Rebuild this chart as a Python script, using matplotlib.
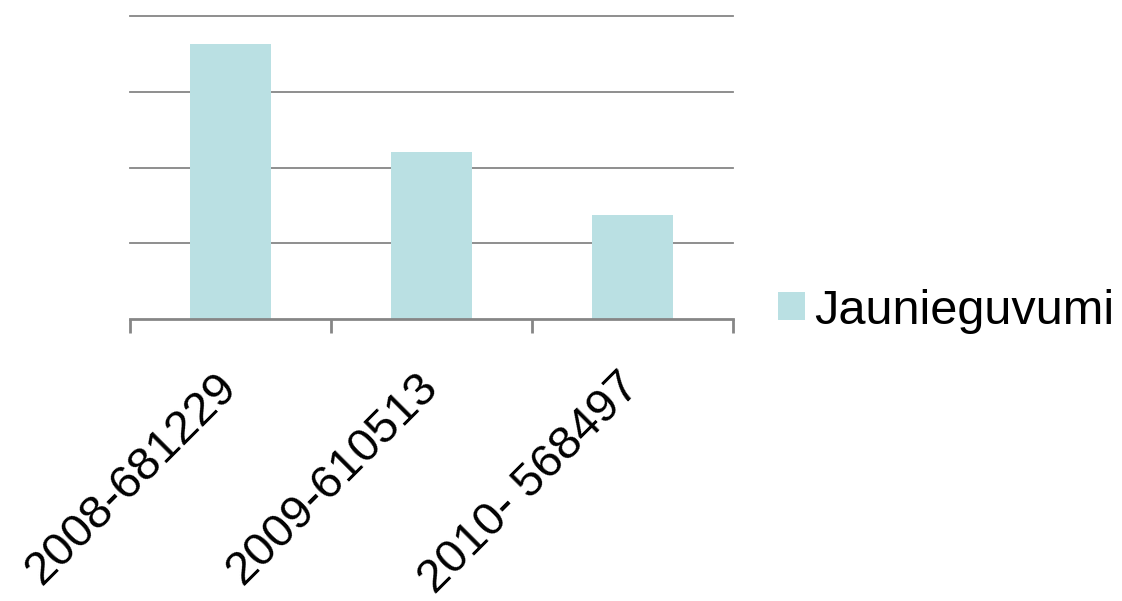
import matplotlib.pyplot as plt
from matplotlib.ticker import FixedLocator

plt.rcParams['font.family'] = ['Liberation Sans', 'DejaVu Sans']

categories = ['2008-681229', '2009-610513', '2010- 568497']
values = [681229, 610513, 568497]
series_name = 'Jaunieguvumi'
y_ticks = [500000, 550000, 600000, 650000, 700000]

bar_color = '#BAE0E3'
line_color = '#868686'

fig = plt.figure(figsize=(11.22, 6.01), dpi=100)
ax = fig.add_axes([130 / 1122, 1 - 319 / 601, 603 / 1122, 303 / 601])

x = range(len(categories))
ax.bar(x, values, width=0.4, color=bar_color, label=series_name, zorder=2)

ax.set_xlim(-0.5, len(categories) - 0.5)
ax.set_ylim(y_ticks[0], y_ticks[-1])
ax.set_yticks(y_ticks)
ax.set_yticklabels([])
ax.tick_params(axis='y', length=0)
for yv in y_ticks[1:]:
    ax.axhline(yv, color=line_color, lw=1.3, zorder=1, clip_on=False)

for side in ['left', 'right', 'top']:
    ax.spines[side].set_visible(False)
ax.spines['bottom'].set_color(line_color)
ax.spines['bottom'].set_linewidth(2)
ax.spines['bottom'].set_zorder(3)

ax.set_xticks(list(x))
ax.set_xticklabels(categories, rotation=45, ha='right', va='center',
                   rotation_mode='anchor', fontsize=34)
ax.tick_params(axis='x', length=0, pad=44)
ax.xaxis.set_minor_locator(FixedLocator([i - 0.5 for i in range(len(categories) + 1)]))
ax.tick_params(axis='x', which='minor', length=10, width=2, color=line_color)

fig.legend(loc='center left', bbox_to_anchor=(778 / 1122, 1 - 311 / 601),
           frameon=False, fontsize=35, handlelength=0.55, handleheight=0.52,
           handletextpad=0.2, borderpad=0, borderaxespad=0)

fig.savefig('out.png', dpi=100)
